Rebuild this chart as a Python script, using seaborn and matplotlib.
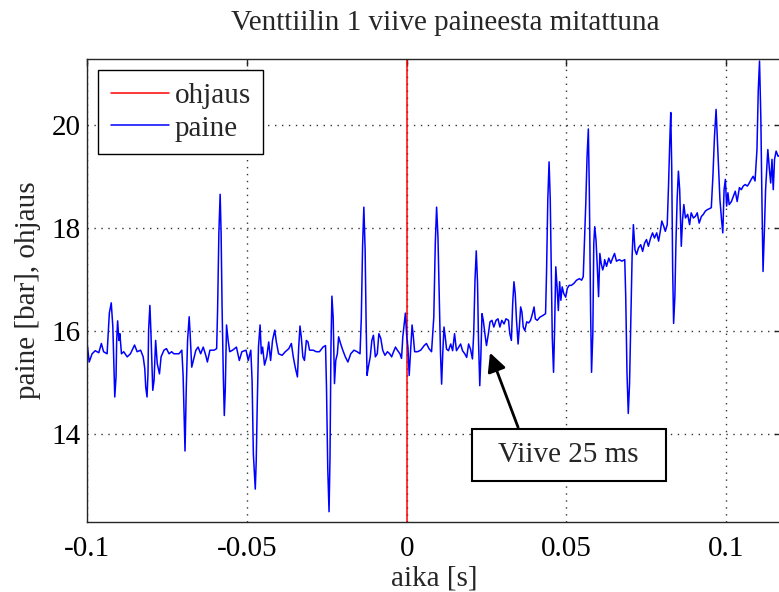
import numpy as np
import matplotlib.pyplot as plt
import seaborn as sns

sns.set_style('white')
plt.rcParams['font.family'] = ['Liberation Serif', 'DejaVu Serif']
plt.rcParams['axes.unicode_minus'] = False

# paine (bar) luettuna kuvasta, aika millisekunteina
aika_ms = [
    -100.0, -99.4, -98.5, -97.5, -96.4, -95.6, -94.9, -93.8, -93.1, -92.5, -92.0, -91.6, -91.4, -91.0, -90.8,
    -90.5, -90.1, -89.8, -89.3, -88.6, -87.5, -86.5, -85.2, -84.4, -83.3, -82.5, -82.0, -81.7, -81.3, -81.0,
    -80.8, -80.4, -80.1, -79.7, -79.5, -79.1, -78.6, -78.1, -77.4, -76.9, -76.0, -75.2, -74.4, -73.6, -72.9,
    -71.3, -70.4, -70.0, -69.6, -69.4, -69.0, -68.6, -68.1, -67.8, -67.3, -66.8, -66.0, -65.3, -64.5, -63.7,
    -62.9, -62.4, -61.6, -60.3, -59.5, -59.2, -58.8, -58.4, -58.1, -57.8, -57.4, -57.1, -56.8, -56.4, -55.9,
    -55.4, -54.5, -53.3, -52.4, -51.6, -50.3, -49.6, -48.8, -48.4, -48.0, -47.4, -47.1, -46.8, -46.4, -45.9,
    -45.5, -45.1, -44.5, -43.8, -43.2, -42.6, -42.0, -41.3, -40.8, -40.1, -39.0, -38.0, -36.9, -36.1, -35.5,
    -34.9, -34.2, -33.8, -33.4, -33.0, -32.5, -32.0, -31.4, -30.9, -30.4, -29.3, -28.3, -27.3, -26.2, -25.4,
    -25.1, -24.7, -24.3, -24.0, -23.7, -23.4, -23.0, -22.6, -22.2, -21.7, -21.3, -20.7, -20.0, -19.2, -18.4,
    -17.5, -16.5, -15.5, -14.6, -14.2, -13.8, -13.4, -13.0, -12.7, -12.4, -12.0, -11.4, -10.9, -10.4, -9.8,
    -9.2, -8.7, -8.1, -7.5, -6.8, -6.0, -5.3, -4.7, -4.1, -3.5, -2.9, -2.1, -1.6, -1.2, -0.8,
    -0.4, 0.0, 0.4, 0.8, 1.3, 1.7, 2.1, 2.5, 3.4, 4.4, 5.5, 6.2, 7.0, 7.8,
    8.5, 8.97, 9.38, 9.8, 10.2, 10.6, 10.95, 11.3, 11.7, 12.1, 12.5, 13.1, 13.8, 14.4, 15.0,
    15.6, 16.3, 16.9, 17.5, 18.2, 18.8, 19.4, 20.0, 20.6, 21.0, 21.4, 21.8, 22.2, 22.5, 22.9,
    23.2, 23.6, 24.0, 24.5, 25.0, 25.6, 26.1, 26.7, 27.3, 28.0, 28.6, 29.2, 29.8, 30.5, 31.1,
    31.9, 32.3, 32.8, 33.2, 33.6, 34.0, 34.4, 34.9, 35.3, 35.7, 36.1, 36.5, 37.0, 37.6, 38.2,
    38.8, 39.4, 39.9, 40.3, 40.9, 41.7, 42.8, 43.5, 43.8, 44.2, 44.6, 44.97, 45.3, 45.6, 46.0,
    46.3, 46.7, 47.1, 47.5, 47.9, 48.3, 48.7, 49.2, 49.8, 50.3, 50.9, 51.6, 52.4, 53.2, 54.1,
    54.8, 55.3, 55.6, 56.1, 56.5, 56.9, 57.2, 57.6, 57.9, 58.3, 58.6, 58.9, 59.3, 59.7, 60.1,
    60.5, 60.9, 61.4, 61.8,
    62.0, 62.6, 63.3, 63.9, 64.5, 65.1, 65.7, 66.6, 67.4, 68.3, 68.6, 69.0, 69.4, 69.8, 70.2,
    70.6, 71.0, 71.5, 72.0, 72.6, 73.3, 73.9, 74.5, 75.1, 75.7, 76.4, 77.0, 77.6, 78.3, 78.9,
    79.5, 79.9, 80.5, 81.0, 81.6, 82.0, 82.4, 82.7, 83.0, 83.3, 83.6, 84.0, 84.3, 84.7, 85.1,
    85.5, 86.0, 86.4, 86.8, 87.3, 88.0, 88.6, 89.1, 89.8, 90.4, 91.0, 91.6, 92.3, 92.9, 93.5,
    94.1, 94.8, 95.4, 95.9, 96.4, 96.9, 97.3, 97.7, 98.1, 98.6, 99.0, 99.4, 99.8, 100.2, 100.6,
    101.0, 101.7, 102.3, 102.9, 103.5, 104.2, 104.8, 105.4, 106.0, 106.7, 107.3, 107.9, 108.5, 109.1, 109.7,
    110.1, 110.5, 110.9, 111.3, 111.6, 112.0, 112.4, 112.7, 113.1, 113.6, 114.0, 114.4, 114.8, 115.2, 115.7,
    116.3, 117.0,
]
paine_bar = [
    15.73, 15.40, 15.56, 15.62, 15.58, 15.76, 15.60, 15.56, 16.35, 16.55, 16.08, 15.17, 14.72, 15.11, 15.82,
    16.20, 15.82, 15.95, 15.56, 15.60, 15.50, 15.56, 15.73, 15.60, 15.63, 15.50, 15.27, 14.91, 14.72, 15.17,
    16.02, 16.50, 16.02, 15.24, 14.85, 15.04, 15.82, 15.37, 15.17, 15.50, 15.63, 15.66, 15.56, 15.60, 15.56,
    15.56, 15.63, 15.14, 14.13, 13.67, 14.91, 15.82, 16.28, 15.95, 15.30, 15.43, 15.63, 15.69, 15.56, 15.69,
    15.53, 15.40, 15.63, 15.63, 15.66, 16.41, 17.91, 18.66, 17.91, 16.48, 15.11, 14.36, 14.85, 16.12, 15.82,
    15.60, 15.63, 15.69, 15.43, 15.60, 15.63, 15.43, 15.63, 15.04, 13.61, 12.93, 13.48, 14.52, 15.69, 16.12,
    15.56, 15.69, 15.34, 15.50, 15.79, 15.43, 15.82, 16.02, 15.79, 15.56, 15.53, 15.60, 15.66, 15.76, 15.50,
    15.30, 15.11, 15.69, 16.10, 15.89, 15.50, 15.43, 15.82, 15.79, 15.63, 15.63, 15.60, 15.60, 15.69, 15.72,
    14.91, 13.32, 12.49, 13.54, 15.69, 16.68, 16.25, 14.98, 15.43, 15.56, 15.89, 15.76, 15.63, 15.50, 15.40,
    15.56, 15.63, 15.60, 15.56, 16.25, 17.65, 18.41, 17.58, 16.21, 15.14, 15.30, 15.50, 15.82, 15.92, 15.50,
    15.56, 15.95, 15.86, 15.63, 15.53, 15.60, 15.56, 15.50, 15.60, 15.69, 15.63, 15.56, 15.47, 15.89, 16.12,
    16.35, 15.92, 15.69, 15.14, 15.69, 16.12, 15.89, 15.60, 15.60, 15.63, 15.72, 15.76, 15.66, 15.60,
    16.27, 17.71, 18.41, 17.84, 16.66, 15.56, 14.97, 15.56, 16.08, 15.88, 15.65, 15.62, 15.75, 15.62, 15.95,
    15.62, 15.69, 15.75, 15.62, 15.56, 15.49, 15.75, 15.65, 15.46, 15.95, 16.99, 17.56, 16.93, 15.82, 14.94,
    15.43, 16.34, 16.21, 15.95, 15.72, 15.95, 16.18, 16.21, 16.08, 16.21, 16.24, 16.08, 16.21, 16.14, 16.24,
    16.21, 15.95, 15.82, 16.53, 16.96, 16.73, 16.21, 15.75, 16.08, 16.47, 16.37, 16.08, 16.01, 16.18, 16.16,
    16.21, 16.34, 16.47, 16.24, 16.21, 16.27, 16.31, 16.34, 17.12, 18.55, 19.29, 18.55, 17.12, 15.88, 15.20,
    15.95, 17.25, 16.86, 16.40, 16.96, 16.60, 16.86, 16.73, 16.66, 16.83, 16.89, 16.89, 16.93, 16.99, 17.02,
    16.99, 17.06, 17.58, 18.49, 19.40, 19.93, 18.75, 16.40, 15.20, 15.95, 17.71, 18.03, 17.77, 17.25, 16.67,
    17.51, 17.32, 17.19, 17.28,
    17.39, 17.26, 17.42, 17.32, 17.42, 17.51, 17.36, 17.39, 17.36, 17.39, 16.68, 15.19, 14.40, 14.98, 16.21,
    17.45, 18.07, 17.58, 17.49, 17.62, 17.68, 17.55, 17.71, 17.78, 17.65, 17.81, 17.91, 17.81, 17.91, 17.75,
    17.97, 18.14, 18.04, 17.94, 18.07, 18.82, 19.69, 20.25, 19.21, 17.19, 16.15, 16.68, 17.65, 18.56, 19.11,
    18.75, 17.65, 18.17, 18.46, 18.20, 18.27, 18.07, 18.30, 18.20, 18.23, 18.30, 18.10, 18.23, 18.27, 18.33,
    18.36, 18.38, 18.40, 19.01, 19.79, 20.31, 19.73, 19.14, 18.56, 18.17, 17.91, 18.75, 18.95, 18.43, 18.69,
    18.46, 18.52, 18.62, 18.72, 18.52, 18.79, 18.75, 18.82, 18.85, 18.82, 18.88, 18.95, 19.01, 18.92, 19.53,
    20.67, 21.25, 20.18, 18.36, 17.16, 17.91, 18.75, 19.08, 19.53, 19.14, 18.88, 19.34, 18.75, 19.34, 19.50,
    19.40, 19.42,
]

# ohjaussignaali: nousee hetkella 0
ohjaus_aika = [0.0, 0.0]
ohjaus_arvo = [0.0, 24.0]

x_ticks = [-0.1, -0.05, 0, 0.05, 0.1]
x_labels = ['-0.1', '-0.05', '0', '0.05', '0.1']
y_ticks = [14, 16, 18, 20]
y_labels = ['14', '16', '18', '20']

t = np.array(aika_ms) / 1000.0
p = np.array(paine_bar)

fig = plt.figure(figsize=(7.79, 5.92), dpi=100)
W, H = 779, 592
ax = fig.add_axes([87.3 / W, 1 - 522 / H, (780.6 - 87.3) / W, (522 - 59) / H])

sns.lineplot(x=ohjaus_aika, y=ohjaus_arvo, color='red', lw=1.1, estimator=None, sort=False,
             ax=ax, label='ohjaus')
sns.lineplot(x=t, y=p, color='blue', lw=1.1, estimator=None, sort=False, ax=ax, label='paine')

ax.set_xlim(-0.1, 0.1171)
ax.set_ylim(12.29, 21.29)
ax.set_xticks(x_ticks)
ax.set_xticklabels(x_labels)
ax.set_yticks(y_ticks)
ax.set_yticklabels(y_labels)
ax.tick_params(direction='in', length=5, width=1, top=True, right=True,
               labelsize=21, colors='#262626', labelcolor='black')
ax.tick_params(axis='x', pad=10)
ax.tick_params(axis='y', pad=5)
ax.grid(True, linestyle=(0, (1, 4)), color='#333333', lw=1)
for s in ax.spines.values():
    s.set_color('#262626')
    s.set_linewidth(1)

ax.set_xlabel('aika [s]', fontsize=21, va='center')
ax.xaxis.set_label_coords(0.5, -0.121)
ax.set_ylabel('paine [bar], ohjaus', fontsize=21, va='center')
ax.yaxis.set_label_coords(-0.086, 0.5)
fig.text(445 / W, 1 - 23 / H, 'Venttiilin 1 viive paineesta mitattuna', fontsize=21,
         ha='center', va='center')

leg = ax.legend(loc='upper left', fancybox=False, framealpha=1, edgecolor='black',
                fontsize=21, handlelength=2.0, borderaxespad=0.38, borderpad=0.42,
                labelspacing=0.22, handletextpad=0.2)
leg.get_frame().set_linewidth(1)

ax.annotate('', xy=(0.0261, 15.58), xytext=(0.0349, 14.13),
            arrowprops=dict(arrowstyle='-|>', color='black', lw=2, mutation_scale=28,
                            shrinkA=0, shrinkB=0))
ax.text(0.0508, 13.59, '  Viive 25 ms  ', fontsize=21, ha='center', va='center',
        bbox=dict(boxstyle='square,pad=0.44', fc='white', ec='black', lw=1.5))

fig.savefig('out.png', dpi=100)
